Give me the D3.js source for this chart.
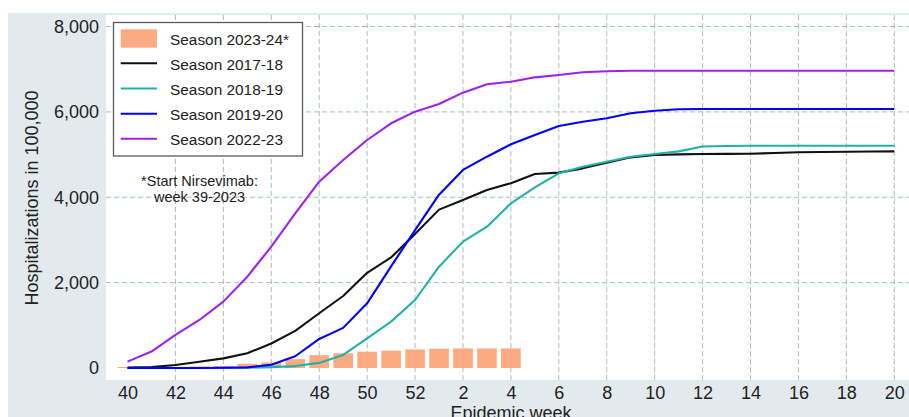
<!DOCTYPE html>
<html>
<head>
<meta charset="utf-8">
<script src="https://cdn.jsdelivr.net/npm/d3@7"></script>
<style>
  html, body { margin: 0; padding: 0; background: #ffffff; }
  svg { display: block; font-family: "Liberation Sans", Arial, sans-serif; }
</style>
</head>
<body>
<svg id="chart" width="909" height="417"></svg>
<script>
// ---- data ----
const weeks = [40,41,42,43,44,45,46,47,48,49,50,51,52,1,2,3,4,5,6,7,8,9,10,11,12,13,14,15,16,17,18,19,20];
const xTickWeeks = [40,42,44,46,48,50,52,2,4,6,8,10,12,14,16,18,20];
const yTicks = [0,2000,4000,6000,8000];

const barWeeks = [40,41,42,43,44,45,46,47,48,49,50,51,52,1,2,3,4];
const season2324 = [25,25,30,35,45,100,130,208,300,345,382,405,435,452,458,458,458];

const season1718 = [10,20,70,145,225,345,575,870,1282,1687,2230,2590,3140,3710,3935,4170,4330,4545,4577,4677,4810,4935,4990,5005,5013,5017,5020,5035,5055,5060,5065,5070,5075];
const season1819 = [0,0,0,0,0,5,20,45,120,305,696,1086,1593,2374,2960,3311,3855,4230,4561,4716,4833,4950,5013,5075,5190,5200,5205,5205,5205,5205,5205,5205,5205];
const season1920 = [0,0,0,0,5,15,75,275,680,940,1515,2380,3230,4060,4640,4950,5240,5460,5670,5770,5850,5966,6027,6060,6067,6067,6067,6067,6067,6067,6067,6067,6067];
const season2223 = [150,385,775,1125,1555,2140,2842,3620,4365,4873,5341,5732,6005,6184,6450,6646,6707,6809,6864,6927,6950,6965,6965,6965,6965,6965,6965,6965,6965,6965,6965,6965,6965];

const seriesNames = ["Season 2017-18","Season 2018-19","Season 2019-20","Season 2022-23"];
const seriesColors = ["#111111","#20b2aa","#0000ff","#a020f0"];
const barName = "Season 2023-24*";
const barColor = "#fcaa82";
const seriesData = [season1718, season1819, season1920, season2223];

// ---- layout ----
const svg = d3.select("#chart");
const plot = {left: 106, right: 909, top: 15, bottom: 380};

const x = d3.scalePoint().domain(weeks.map(String)).range([127.5, 894.3]).padding(0);
const y = d3.scaleLinear().domain([0, 8000]).range([368, 26.5]);

// backgrounds
svg.append("rect").attr("x", 8).attr("y", 13).attr("width", 901).attr("height", 404).attr("fill", "#e3eaed");
svg.append("rect").attr("x", plot.left).attr("y", plot.top).attr("width", plot.right - plot.left).attr("height", plot.bottom - plot.top).attr("fill", "#ffffff");

const gridColor = "#a7bdc2";
// horizontal grid
svg.append("g").selectAll("line").data(yTicks.filter(d => d > 0)).join("line")
  .attr("x1", plot.left).attr("x2", plot.right)
  .attr("y1", d => y(d)).attr("y2", d => y(d))
  .attr("stroke", gridColor).attr("stroke-width", 1).attr("stroke-dasharray", "5,3");
// vertical grid
svg.append("g").selectAll("line").data(xTickWeeks.filter(d => d !== 40)).join("line")
  .attr("x1", d => x(String(d))).attr("x2", d => x(String(d)))
  .attr("y1", plot.top).attr("y2", plot.bottom)
  .attr("stroke", gridColor).attr("stroke-width", 1).attr("stroke-dasharray", "5,3");

// bars
const bw = x.step() * 0.82;
svg.append("g").selectAll("rect").data(barWeeks.map((w, i) => ({w, v: season2324[i]}))).join("rect")
  .attr("x", d => x(String(d.w)) - bw / 2)
  .attr("width", bw)
  .attr("y", d => y(d.v))
  .attr("height", d => y(0) - y(d.v))
  .attr("fill", barColor);

// lines
const line = d3.line().x((d, i) => x(String(weeks[i]))).y(d => y(d));
svg.append("g").selectAll("path").data(seriesData).join("path")
  .attr("d", d => line(d))
  .attr("fill", "none")
  .attr("stroke", (d, i) => seriesColors[i])
  .attr("stroke-width", 2.1)
  .attr("stroke-linejoin", "round");

// axes
const xAxis = d3.axisBottom(x).tickValues(xTickWeeks.map(String)).tickSize(0).tickPadding(0);
const gx = svg.append("g").attr("transform", "translate(0,386)").call(xAxis);
gx.select(".domain").remove();
gx.selectAll("text").attr("font-size", 18).attr("fill", "#222").attr("dy", "0.71em")
  .attr("font-family", "Liberation Sans, Arial, sans-serif");

const yAxis = d3.axisLeft(y).tickValues(yTicks).tickFormat(d3.format(",")).tickSize(0).tickPadding(0);
const gy = svg.append("g").attr("transform", "translate(99,0)").call(yAxis);
gy.select(".domain").remove();
gy.selectAll("text").attr("font-size", 18).attr("fill", "#222")
  .attr("font-family", "Liberation Sans, Arial, sans-serif");

// axis titles
svg.append("text").attr("transform", "translate(38,198) rotate(-90)")
  .attr("text-anchor", "middle").attr("font-size", 18).attr("fill", "#222")
  .text("Hospitalizations in 100,000");
svg.append("text").attr("x", 511).attr("y", 418.5)
  .attr("text-anchor", "middle").attr("font-size", 18).attr("fill", "#222")
  .text("Epidemic week");

// annotation
const ann = svg.append("text").attr("x", 199.5).attr("y", 186)
  .attr("text-anchor", "middle").attr("font-size", 14.5).attr("fill", "#222");
ann.append("tspan").attr("x", 199.5).text("*Start Nirsevimab:");
ann.append("tspan").attr("x", 199.5).attr("dy", 16).text("week 39-2023");

// legend
const lg = svg.append("g");
lg.append("rect").attr("x", 113.5).attr("y", 22.5).attr("width", 189).attr("height", 133.5)
  .attr("fill", "#ffffff").attr("stroke", "#5a5a5a").attr("stroke-width", 1.3);
const rowY = [39.2, 64, 89.3, 114.4, 139.4];
lg.append("rect").attr("x", 120.7).attr("y", 29.3).attr("width", 36.3).attr("height", 18.4).attr("fill", barColor);
seriesNames.forEach((n, i) => {
  lg.append("line").attr("x1", 120.7).attr("x2", 157).attr("y1", rowY[i + 1] - 0.7).attr("y2", rowY[i + 1] - 0.7)
    .attr("stroke", seriesColors[i]).attr("stroke-width", 2);
});
[barName].concat(seriesNames).forEach((n, i) => {
  lg.append("text").attr("x", 170).attr("y", rowY[i]).attr("dy", "0.36em")
    .attr("font-size", 15.4).attr("fill", "#222").text(n);
});
</script>
</body>
</html>
